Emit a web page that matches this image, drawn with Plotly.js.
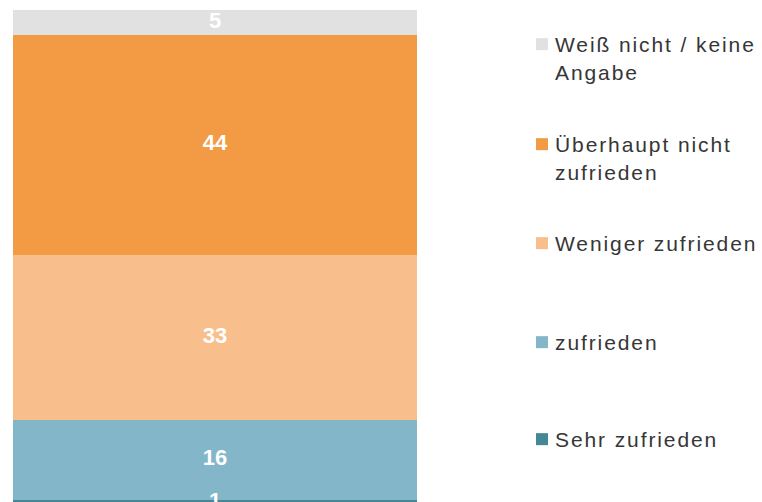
<!DOCTYPE html>
<html>
<head>
<meta charset="utf-8">
<script src="https://cdn.plot.ly/plotly-3.0.1.min.js"></script>
<style>
  html, body { margin: 0; padding: 0; background: #ffffff; }
  #chart { width: 762px; height: 502px; }
  .infolayer text, .infolayer tspan { letter-spacing: 1.9px; }
  .infolayer .scrollbox, .infolayer g { clip-path: none !important; }
  .infolayer .legendsymbols { transform: translate(7px, 0px); }
</style>
</head>
<body>
<div id="chart"></div>
<script>
// Data (stacking order: bottom to top)
const category = ["Gesamt"];
const seriesNames = [
  "Sehr zufrieden",
  "zufrieden",
  "Weniger zufrieden",
  "Überhaupt nicht<br>zufrieden",
  "Weiß nicht / keine<br>Angabe"
];
const seriesValues = [1, 16, 33, 44, 5];
const seriesColors = ["#448898", "#84B6C9", "#F8BF8D", "#F39B44", "#E1E1E1"];
// legend first-line centre (pixel y in container)
const legendCenters = [438, 341, 242, 143, 43];

const W = 762, H = 502;
const traces = [];
const legends = {};
let base = 0;
const labelY = [], labelText = [];
seriesValues.forEach((v, i) => {
  const legendId = i === 0 ? "legend" : "legend" + (i + 1);
  traces.push({
    type: "bar",
    x: category,
    y: [v],
    name: seriesNames[i],
    marker: { color: seriesColors[i], line: { width: 0 } },
    legend: legendId,
    hoverinfo: "none"
  });
  labelY.push(base + v / 2);
  labelText.push(String(v));
  base += v;
  legends[legendId] = {
    xref: "container", yref: "container",
    x: 515 / W, xanchor: "left",
    y: 1 - (legendCenters[i] - 19) / H, yanchor: "top",
    valign: "top",
    bgcolor: "rgba(0,0,0,0)",
    borderwidth: 0,
    font: { family: "Liberation Sans, Arial, sans-serif", size: 21, color: "#363636" }
  };
});

traces.push({
  type: "scatter",
  mode: "text",
  x: labelY.map(() => category[0]),
  y: labelY,
  text: labelText,
  textposition: "middle center",
  textfont: { family: "Liberation Sans, Arial, sans-serif", size: 22, color: "#ffffff", weight: "bold" },
  showlegend: false,
  cliponaxis: false,
  hoverinfo: "none"
});

const layout = Object.assign({
  width: W,
  height: H,
  margin: { l: 13, r: 345, t: 7, b: 0, pad: 0 },
  paper_bgcolor: "#ffffff",
  plot_bgcolor: "#ffffff",
  barmode: "stack",
  bargap: 0,
  xaxis: { visible: false, range: [-0.5, 0.5], type: "category", fixedrange: true },
  yaxis: { visible: false, range: [0.5, 99.5], fixedrange: true },
  showlegend: true
}, legends);

Plotly.newPlot("chart", traces, layout, { displayModeBar: false, staticPlot: true });
</script>
</body>
</html>
